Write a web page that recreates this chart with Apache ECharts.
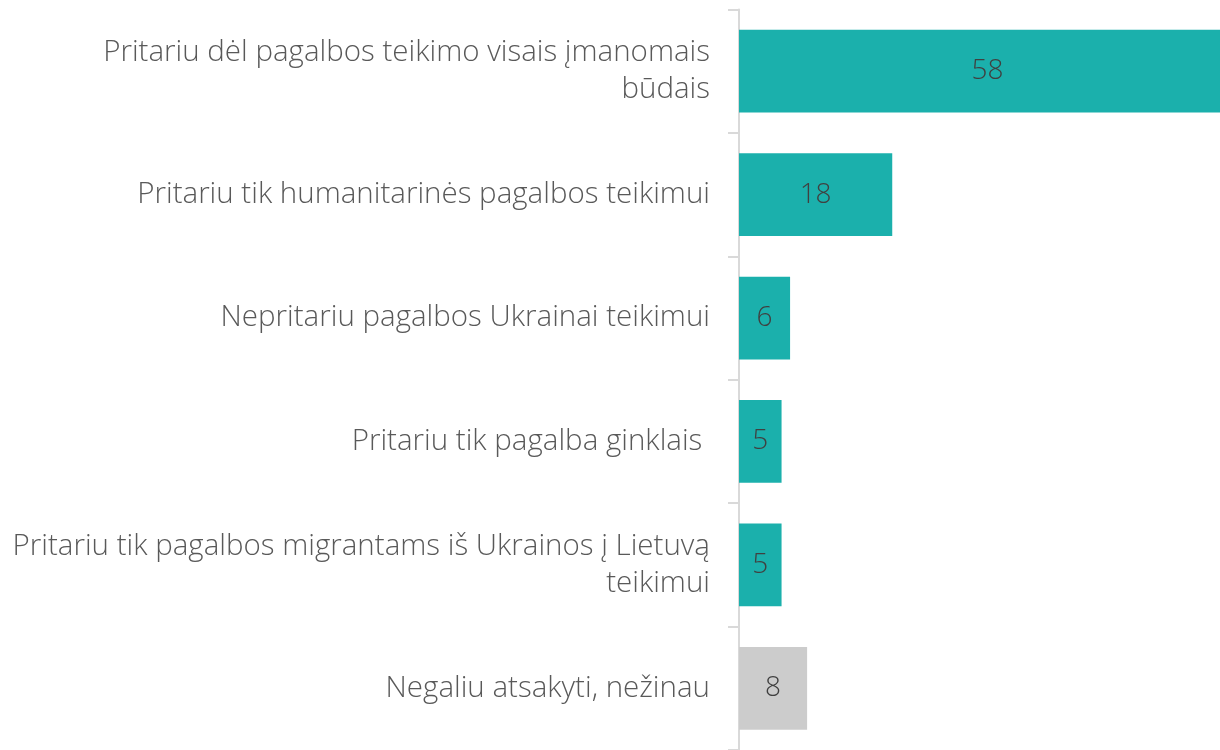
<!DOCTYPE html>
<html><head><meta charset="utf-8">
<script src="https://cdn.jsdelivr.net/npm/echarts@6/dist/echarts.min.js"></script>
<style>html,body{margin:0;padding:0;background:#fff}#c{width:1220px;height:750px}</style>
</head><body><div id="c"></div>
<script>
const categories = [
  "Pritariu dėl pagalbos teikimo visais įmanomais\nbūdais",
  "Pritariu tik humanitarinės pagalbos teikimui",
  "Nepritariu pagalbos Ukrainai teikimui",
  "Pritariu tik pagalba ginklais ",
  "Pritariu tik pagalbos migrantams iš Ukrainos į Lietuvą\nteikimui",
  "Negaliu atsakyti, nežinau"
];
const values = [58, 18, 6, 5, 5, 8];
const barColors = ["#1bb0ac", "#1bb0ac", "#1bb0ac", "#1bb0ac", "#1bb0ac", "#cccccc"];

const chart = echarts.init(document.getElementById('c'));
const font = "'Segoe UI', 'Open Sans', 'Noto Sans', sans-serif";
chart.setOption({
  animation: false,
  grid: { left: 739, right: 0, top: 9.5, bottom: -3, containLabel: false },
  xAxis: { type: 'value', min: 0, max: 56.5, show: false },
  yAxis: {
    type: 'category', inverse: true, data: categories,
    axisLine: { show: true, lineStyle: { color: '#d9d9d9', width: 2 } },
    axisTick: { show: true, length: 11, lineStyle: { color: '#d9d9d9', width: 2 } },
    axisLabel: { margin: 29, fontSize: 29.5, lineHeight: 37, color: '#595959', fontFamily: font, fontWeight: 300, align: 'right' }
  },
  series: [{
    type: 'bar',
    data: values.map((v, i) => ({ value: v, itemStyle: { color: barColors[i] },
      label: i === 0 ? { offset: [8, 0] } : undefined })),
    barCategoryGap: '33%',
    label: { show: true, position: 'inside', fontSize: 28, color: '#404040', fontFamily: font, fontWeight: 300 }
  }]
});
</script></body></html>
